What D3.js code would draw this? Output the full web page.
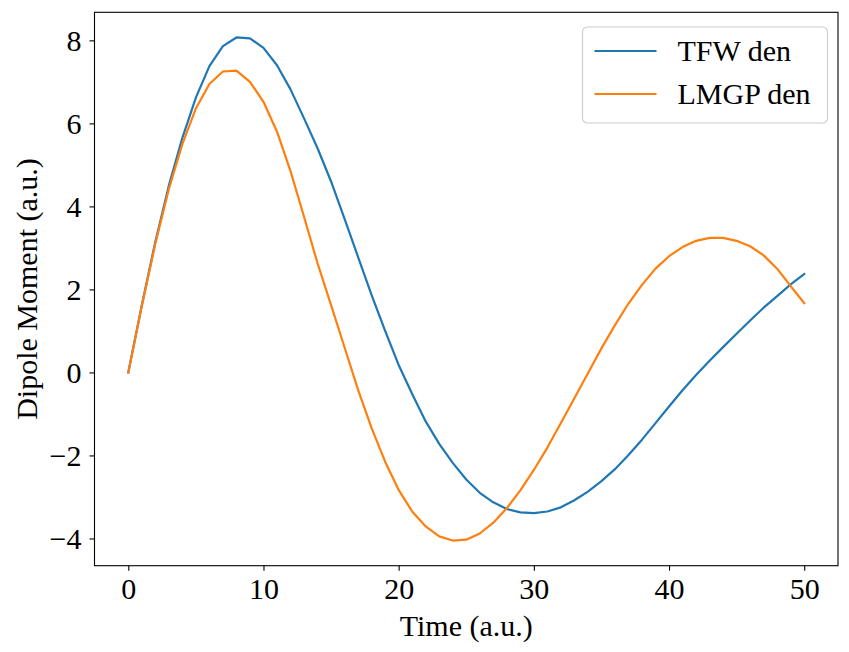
<!DOCTYPE html>
<meta charset="utf-8">
<script src="https://d3js.org/d3.v7.min.js"></script>
<style>
  body { margin: 0; background: #fff; }
  svg text { font-family: "Liberation Serif", "Times New Roman", serif; fill: #000; }
</style>
<div id="chart"></div>
<script>

  // time steps (a.u.)
  const time = [0, 1, 2, 3, 4, 5, 6, 7, 8, 9, 10, 11, 12, 13, 14, 15, 16, 17, 18, 19,
    20, 21, 22, 23, 24, 25, 26, 27, 28, 29, 30, 31, 32, 33, 34, 35, 36, 37, 38, 39,
    40, 41, 42, 43, 44, 45, 46, 47, 48, 49, 50];

  // dipole moment
  const tfwDen = [0, 1.62, 3.15, 4.50, 5.65, 6.62, 7.38, 7.86, 8.07, 8.05,
    7.82, 7.40, 6.82, 6.12, 5.40, 4.60, 3.70, 2.78, 1.86, 1.00,
    0.18, -0.52, -1.18, -1.72, -2.18, -2.58, -2.90, -3.13, -3.29, -3.37,
    -3.39, -3.35, -3.25, -3.08, -2.87, -2.62, -2.33, -1.99, -1.62, -1.22,
    -0.82, -0.43, -0.06, 0.28, 0.61, 0.93, 1.25, 1.56, 1.84, 2.12, 2.37];

  const lmgpDen = [0, 1.60, 3.10, 4.42, 5.50, 6.36, 6.95, 7.25, 7.27, 7.00,
    6.52, 5.80, 4.85, 3.75, 2.63, 1.62, 0.60, -0.42, -1.34, -2.15,
    -2.83, -3.35, -3.71, -3.95, -4.05, -4.03, -3.88, -3.62, -3.27, -2.84,
    -2.35, -1.81, -1.22, -0.62, -0.02, 0.58, 1.14, 1.66, 2.11, 2.50,
    2.80, 3.02, 3.17, 3.24, 3.24, 3.17, 3.04, 2.82, 2.50, 2.08, 1.67];

  const seriesNames = ["TFW den", "LMGP den"];
  const seriesColors = ["#1f77b4", "#ff7f0e"];
  const xTicks = [0, 10, 20, 30, 40, 50];
  const yTicks = [-4, -2, 0, 2, 4, 6, 8];

  const W = 849, H = 652;
  const margin = {top: 12.3, right: 11, bottom: 86.3, left: 94.5};
  const width = W - margin.left - margin.right,
        height = H - margin.top - margin.bottom;
  const fontSize = 30;
  const serif = '"Liberation Serif", "Times New Roman", serif';

  const svg = d3.select("#chart")
    .append("svg")
      .attr("width", W)
      .attr("height", H);
  svg.append("rect").attr("width", W).attr("height", H).attr("fill", "#fff");

  const g = svg.append("g")
    .attr("transform", `translate(${margin.left},${margin.top})`);

  // matplotlib-like 5% padding
  const xExt = d3.extent(time);
  const xPad = (xExt[1] - xExt[0]) * 0.05;
  const x = d3.scaleLinear()
    .domain([xExt[0] - xPad, xExt[1] + xPad])
    .range([0, width]);

  const yExt = d3.extent(tfwDen.concat(lmgpDen));
  const yPad = (yExt[1] - yExt[0]) * 0.05;
  const y = d3.scaleLinear()
    .domain([yExt[0] - yPad, yExt[1] + yPad])
    .range([height, 0]);

  const fmt = d3.format("d");

  // axes
  const xAxis = g.append("g")
    .attr("transform", `translate(0,${height})`)
    .call(d3.axisBottom(x).tickValues(xTicks).tickSize(5).tickPadding(7).tickFormat(fmt));
  const yAxis = g.append("g")
    .call(d3.axisLeft(y).tickValues(yTicks).tickSize(5).tickPadding(8).tickFormat(fmt));

  [xAxis, yAxis].forEach(a => {
    a.attr("font-family", serif).attr("font-size", fontSize);
    a.select(".domain").remove();
    a.selectAll(".tick line").attr("stroke", "#000").attr("stroke-width", 1.1);
    a.selectAll(".tick text")
      .attr("font-family", serif)
      .style("font-family", serif)
      .style("font-size", fontSize + "px");
  });
  yAxis.selectAll(".tick text").attr("dy", "0.33em");

  // lines
  const line = d3.line()
    .x((d, i) => x(time[i]))
    .y(d => y(d));

  [tfwDen, lmgpDen].forEach((s, k) => {
    g.append("path")
      .datum(s)
      .attr("fill", "none")
      .attr("stroke", seriesColors[k])
      .attr("stroke-width", 2.2)
      .attr("stroke-linejoin", "round")
      .attr("stroke-linecap", "square")
      .attr("d", line);
  });

  // frame
  g.append("rect")
    .attr("width", width)
    .attr("height", height)
    .attr("fill", "none")
    .attr("stroke", "#000")
    .attr("stroke-width", 1.1);

  // axis labels
  svg.append("text")
    .attr("x", margin.left + width / 2)
    .attr("y", 636)
    .attr("text-anchor", "middle")
    .style("font-size", fontSize + "px")
    .text("Time (a.u.)");

  svg.append("text")
    .attr("transform", `translate(37,${margin.top + height / 2}) rotate(-90)`)
    .attr("text-anchor", "middle")
    .style("font-size", fontSize + "px")
    .text("Dipole Moment (a.u.)");

  // legend
  const legend = svg.append("g").attr("transform", "translate(582.5,27)");
  legend.append("rect")
    .attr("width", 245)
    .attr("height", 96)
    .attr("rx", 5)
    .attr("fill", "#fff")
    .attr("fill-opacity", 0.8)
    .attr("stroke", "#cccccc")
    .attr("stroke-width", 1.1);

  seriesNames.forEach((name, k) => {
    const ly = 24 + k * 43;
    legend.append("line")
      .attr("x1", 12).attr("x2", 74)
      .attr("y1", ly).attr("y2", ly)
      .attr("stroke", seriesColors[k])
      .attr("stroke-width", 2.2);
    legend.append("text")
      .attr("x", 95)
      .attr("y", ly + 10)
      .style("font-size", fontSize + "px")
      .text(name);
  });

</script>
